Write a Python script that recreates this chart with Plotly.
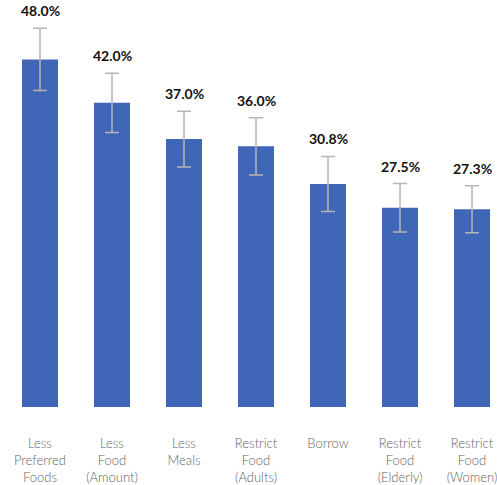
import plotly.graph_objects as go

categories = [
    "Less<br>Preferred<br>Foods",
    "Less<br>Food<br>(Amount)",
    "Less<br>Meals",
    "Restrict<br>Food<br>(Adults)",
    "Borrow",
    "Restrict<br>Food<br>(Elderly)",
    "Restrict<br>Food<br>(Women)",
]
values = [48.0, 42.0, 37.0, 36.0, 30.8, 27.5, 27.3]
errors = [4.3, 4.1, 3.85, 3.95, 3.8, 3.35, 3.25]
labels = ["48.0%", "42.0%", "37.0%", "36.0%", "30.8%", "27.5%", "27.3%"]

fig = go.Figure()
fig.add_trace(go.Bar(
    x=list(range(len(categories))),
    y=values,
    width=0.5,
    marker=dict(color="#4066B8", line=dict(width=0)),
    error_y=dict(type="data", array=errors, visible=True,
                 color="#b5b5b5", thickness=1.5, width=7),
    hoverinfo="skip",
))

for i, (v, e, t) in enumerate(zip(values, errors, labels)):
    fig.add_annotation(
        x=i, y=v + e, text="<b>%s</b>" % t, showarrow=False,
        yanchor="bottom", yshift=7,
        font=dict(family="Lato", size=14, color="#111111"),
    )

fig.update_layout(
    width=497, height=485,
    margin=dict(l=4, r=0, t=0, b=75),
    plot_bgcolor="white", paper_bgcolor="white",
    showlegend=False,
    xaxis=dict(
        range=[-0.5, 6.347],
        tickmode="array",
        tickvals=list(range(len(categories))),
        ticktext=categories,
        showgrid=False, zeroline=False, showline=False,
        ticks="", ticklabelstandoff=27,
        ticklabeloverflow="allow",
        tickfont=dict(family="Lato", size=13, weight=300, color="#5f5f5f"),
    ),
    yaxis=dict(
        range=[0, 56.2], visible=False, showgrid=False, zeroline=False,
    ),
)

fig.write_html("out.html")
